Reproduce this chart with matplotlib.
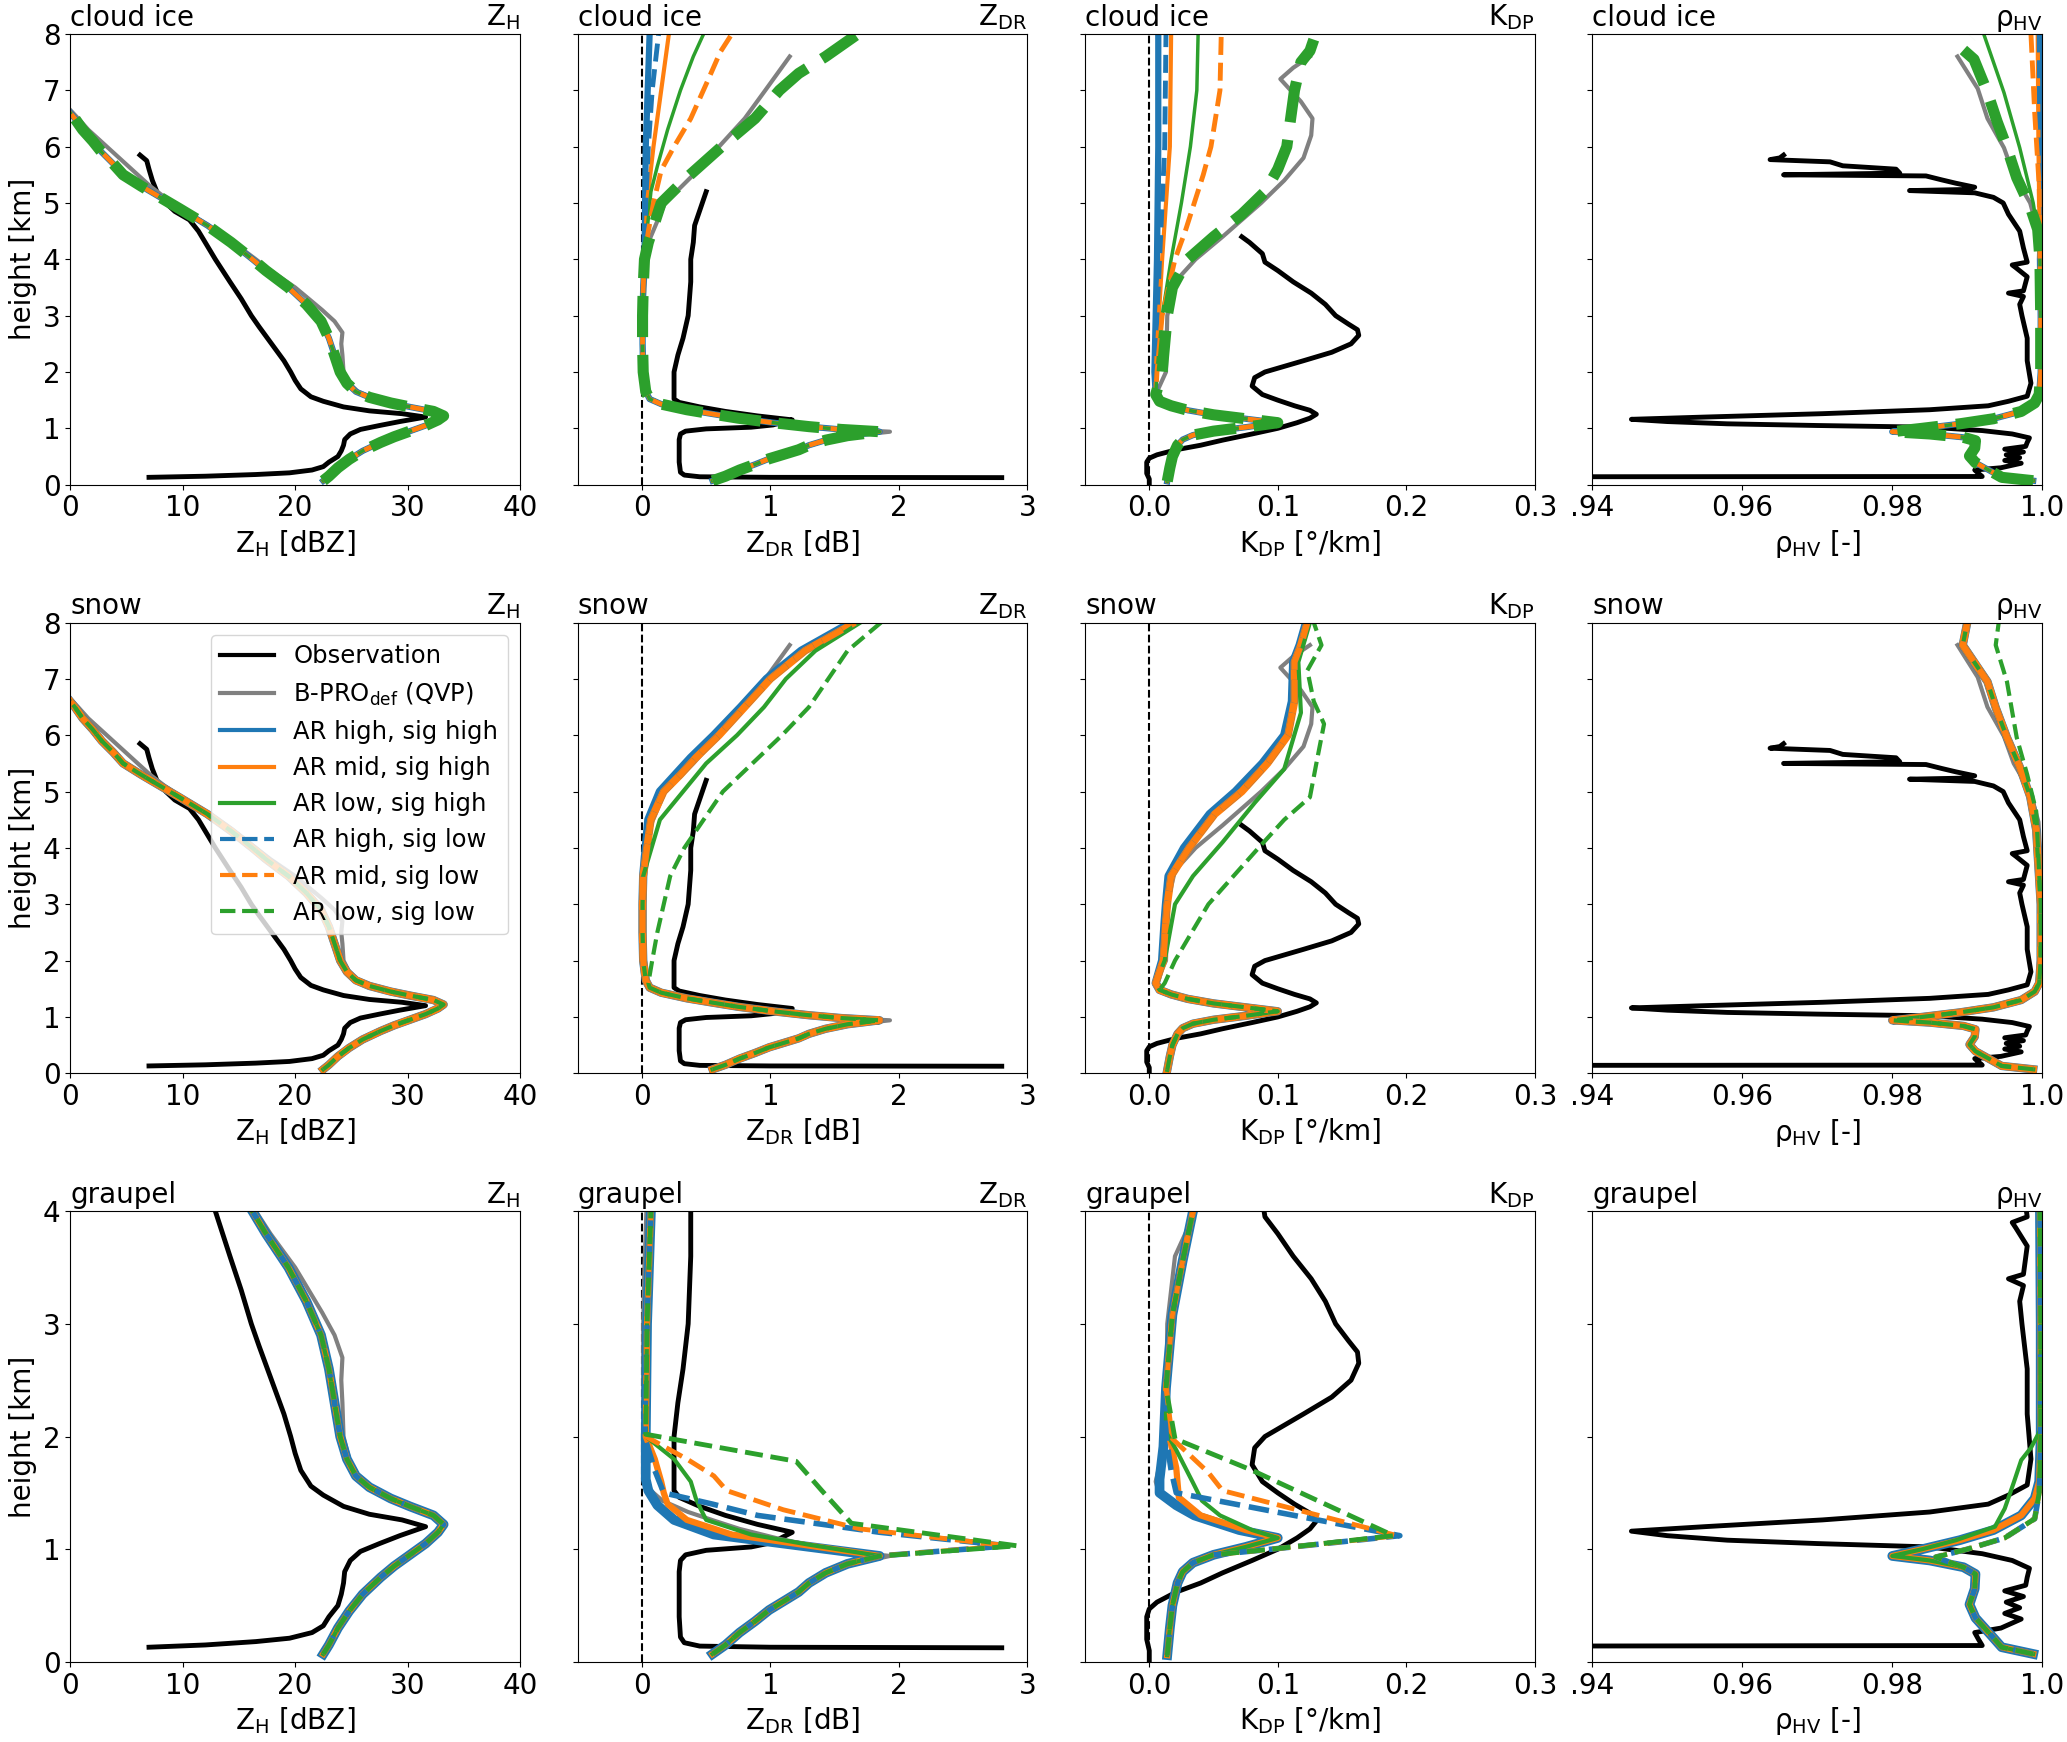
import matplotlib.pyplot as plt
from matplotlib.lines import Line2D

plt.rcParams['font.family'] = 'DejaVu Sans'
plt.rcParams['mathtext.fontset'] = 'dejavusans'

# ---------------- observation (same profile in every row) ----------------
obs_zh_h = [0.13, 0.15, 0.18, 0.21, 0.26, 0.32, 0.4, 0.5, 0.6, 0.7, 0.8, 0.9, 0.98, 1.05, 1.12, 1.2, 1.26,
            1.31, 1.38, 1.48, 1.56, 1.7, 1.85, 2.0, 2.2, 2.5, 2.8, 3.0, 3.3, 3.6, 4.0, 4.3, 4.5, 4.7, 4.85,
            5.0, 5.2, 5.4, 5.6, 5.75, 5.85]
obs_zh = [7.0, 12.0, 16.5, 19.5, 21.5, 22.5, 23.0, 23.8, 24.1, 24.3, 24.4, 24.9, 25.8, 27.5, 29.3, 31.6, 29.5,
          26.6, 24.3, 22.5, 21.4, 20.5, 20.0, 19.6, 19.0, 17.9, 16.8, 16.1, 15.2, 14.2, 12.9, 12.0, 11.4, 10.6, 9.3,
          8.5, 7.7, 7.3, 7.0, 6.8, 6.2]

obs_zdr_h = [0.125, 0.13, 0.14, 0.17, 0.22, 0.4, 0.6, 0.8, 0.9, 0.95, 0.99, 1.02, 1.06, 1.11, 1.15, 1.22, 1.3,
             1.38, 1.46, 1.52, 1.7, 2.0, 2.3, 2.6, 3.0, 3.3, 3.6, 4.0, 4.3, 4.6, 4.8, 5.0, 5.2]
obs_zdr = [2.8, 1.0, 0.45, 0.33, 0.3, 0.29, 0.29, 0.29, 0.3, 0.34, 0.5, 0.85, 1.02, 1.1, 1.17, 0.9, 0.65,
           0.45, 0.29, 0.25, 0.25, 0.25, 0.28, 0.32, 0.36, 0.37, 0.38, 0.38, 0.4, 0.41, 0.44, 0.47, 0.5]

obs_kdp_h = [0.0, 0.1, 0.2, 0.3, 0.4, 0.47, 0.53, 0.62, 0.7, 0.79, 0.9, 1.0, 1.1, 1.18, 1.25, 1.32, 1.4, 1.5,
             1.6, 1.75, 1.9, 2.0, 2.1, 2.2, 2.35, 2.5, 2.65, 2.75, 2.85, 3.0, 3.2, 3.4, 3.6, 3.8, 3.95, 4.1,
             4.2, 4.3, 4.4]
obs_kdp = [0.0, 0.0, -0.002, -0.002, -0.002, 0.0, 0.006, 0.021, 0.04, 0.057, 0.08, 0.1, 0.115, 0.125, 0.13,
           0.125, 0.113, 0.1, 0.088, 0.08, 0.082, 0.09, 0.105, 0.12, 0.142, 0.157, 0.163, 0.162, 0.155, 0.145,
           0.137, 0.126, 0.112, 0.1, 0.09, 0.088, 0.083, 0.078, 0.072]

obs_rho_h = [0.14, 0.145, 0.2, 0.26, 0.3, 0.38, 0.43, 0.48, 0.53, 0.58, 0.63, 0.68, 0.75, 0.83, 0.9, 0.96,
             1.02, 1.05, 1.08, 1.12, 1.16, 1.2, 1.26, 1.33, 1.4, 1.48, 1.57, 1.8, 2.2, 2.6, 3.0, 3.2, 3.34,
             3.4, 3.44, 3.69, 3.85, 3.9, 3.95, 4.2, 4.5, 4.8, 5.0, 5.1, 5.18, 5.22, 5.24, 5.28, 5.35, 5.41,
             5.48, 5.5, 5.53, 5.6, 5.66, 5.73, 5.77, 5.8, 5.85]
obs_rho = [0.93, 0.992, 0.9915, 0.991, 0.9945, 0.9972, 0.995, 0.997, 0.9952, 0.9975, 0.995, 0.9978, 0.998,
           0.9983, 0.996, 0.992, 0.985, 0.97, 0.958, 0.95, 0.9452, 0.955, 0.9707, 0.985, 0.9928, 0.9955, 0.998,
           0.9985, 0.998, 0.998, 0.9973, 0.997, 0.9975, 0.9955, 0.9975, 0.998, 0.9965, 0.996, 0.998, 0.9975,
           0.997, 0.9955, 0.9948, 0.9935, 0.991, 0.9823, 0.99, 0.991, 0.9885, 0.9866, 0.9845, 0.9655, 0.981,
           0.9805, 0.9734, 0.9717, 0.9637, 0.965, 0.9655]

# ---------------- B-PRO_def (QVP) ----------------
qvp_zh_h = [0.07, 0.15, 0.3, 0.45, 0.6, 0.75, 0.85, 0.95, 1.05, 1.15, 1.22, 1.3, 1.38, 1.45, 1.55, 1.65, 1.8,
            2.0, 2.3, 2.5, 2.7, 2.9, 3.1, 3.3, 3.5, 3.8, 4.0, 4.3, 4.6, 4.9, 5.1, 5.3, 5.5, 5.7, 5.9, 6.1,
            6.3, 6.5, 6.65]
qvp_zh = [22.6, 23.1, 23.9, 24.9, 26.1, 27.7, 28.9, 30.3, 31.7, 32.8, 33.3, 32.4, 30.3, 28.6, 26.8, 25.6, 24.8,
          24.3, 24.2, 24.1, 24.2, 23.5, 22.4, 21.2, 20.0, 17.8, 16.5, 14.5, 12.3, 9.9, 8.4, 7.1, 6.0, 4.9, 3.8,
          2.7, 1.6, 0.7, 0.0]

qvp_zdr_h = [0.07, 0.15, 0.26, 0.36, 0.46, 0.55, 0.62, 0.7, 0.79, 0.87, 0.94, 0.98, 1.03, 1.1, 1.18, 1.25,
             1.33, 1.43, 1.52, 1.65, 2.0, 2.5, 3.0, 3.5, 4.0, 4.3, 5.0, 5.5, 6.0, 6.5, 7.0, 7.6]
qvp_zdr = [0.55, 0.65, 0.76, 0.88, 0.99, 1.12, 1.22, 1.3, 1.45, 1.65, 1.93, 1.6, 1.33, 1.04, 0.76, 0.57, 0.36,
           0.16, 0.07, 0.035, 0.015, 0.01, 0.01, 0.02, 0.035, 0.05, 0.18, 0.4, 0.6, 0.8, 0.96, 1.15]

qvp_kdp_top_h = [2.0, 3.0, 3.6, 4.0, 4.4, 5.0, 5.4, 5.8, 6.2, 6.5, 6.8, 7.0, 7.2, 7.4, 7.6]
qvp_kdp_top = [0.013, 0.014, 0.02, 0.036, 0.057, 0.087, 0.105, 0.12, 0.126, 0.127, 0.118, 0.11, 0.102, 0.112, 0.125]

qvp_rho_top_h = [4.46, 5.0, 5.5, 5.98, 6.5, 7.03, 7.6]
qvp_rho_top = [0.9995, 0.9984, 0.9962, 0.9949, 0.9927, 0.9914, 0.9887]

# ---------------- AR runs: parts shared by most runs ----------------
zh_h = [0.07, 0.15, 0.3, 0.45, 0.6, 0.75, 0.85, 0.95, 1.05, 1.15, 1.22, 1.3, 1.38, 1.45, 1.55, 1.65, 1.8, 2.0,
        2.3, 2.6, 2.9, 3.2, 3.5, 3.8, 4.0, 4.3, 4.6, 4.9, 5.1, 5.3, 5.5, 5.7, 5.9, 6.1, 6.3, 6.5, 6.6]
zh = [22.5, 23.0, 23.8, 24.8, 26.0, 27.6, 28.8, 30.2, 31.6, 32.7, 33.2, 32.3, 30.2, 28.5, 26.6, 25.4, 24.6, 24.0,
      23.5, 23.0, 22.3, 21.0, 19.4, 17.4, 16.2, 14.3, 12.2, 9.7, 8.0, 6.3, 4.7, 3.8, 2.8, 2.0, 1.1, 0.4, 0.0]

zdr_low_h = [0.07, 0.15, 0.26, 0.36, 0.46, 0.55, 0.62, 0.7, 0.79, 0.87, 0.94, 0.98, 1.03, 1.1, 1.18, 1.25,
             1.33, 1.43, 1.52, 1.65, 2.0, 2.5, 3.0, 3.5, 4.0]
zdr_low = [0.55, 0.65, 0.76, 0.88, 0.99, 1.12, 1.22, 1.3, 1.43, 1.6, 1.85, 1.55, 1.3, 1.02, 0.75, 0.56, 0.35,
           0.15, 0.06, 0.03, 0.01, 0.005, 0.005, 0.01, 0.02]

kdp_low_h = [0.06, 0.3, 0.5, 0.7, 0.8, 0.88, 0.95, 1.02, 1.1, 1.17, 1.24, 1.32, 1.4, 1.48, 1.6]
kdp_low = [0.014, 0.016, 0.018, 0.022, 0.026, 0.034, 0.05, 0.075, 0.1, 0.075, 0.05, 0.03, 0.017, 0.008, 0.005]

rho_low_h = [0.07, 0.13, 0.25, 0.39, 0.51, 0.65, 0.78, 0.84, 0.9, 0.94, 1.0, 1.08, 1.17, 1.3, 1.45, 1.6,
             2.0, 3.0, 4.0]
rho_low = [0.9988, 0.9946, 0.993, 0.9911, 0.9903, 0.991, 0.9911, 0.9895, 0.985, 0.98, 0.984, 0.989, 0.9935,
           0.9972, 0.999, 0.9996, 0.9998, 0.9998, 0.9997]

# ---- cloud ice: upper parts ----
ci_zdr_b_h, ci_zdr_b = [5.0, 6.0, 7.0, 8.0], [0.025, 0.03, 0.045, 0.06]
ci_zdr_o_h, ci_zdr_o = [5.0, 6.0, 7.0, 8.0], [0.04, 0.09, 0.15, 0.21]
ci_zdr_g_h = [4.5, 5.2, 5.65, 6.3, 7.0, 7.6, 8.0]
ci_zdr_g = [0.04, 0.07, 0.12, 0.2, 0.3, 0.4, 0.48]
ci_zdr_bd_h, ci_zdr_bd = [5.0, 6.0, 7.0, 8.0], [0.03, 0.05, 0.08, 0.13]
ci_zdr_od_h = [4.5, 5.0, 5.58, 6.0, 6.5, 7.16, 7.68, 8.0]
ci_zdr_od = [0.05, 0.09, 0.15, 0.25, 0.38, 0.51, 0.61, 0.7]
ci_zdr_gd_h = [4.3, 5.0, 5.45, 6.0, 6.5, 7.0, 7.3, 7.6, 8.0]
ci_zdr_gd = [0.05, 0.15, 0.35, 0.62, 0.88, 1.07, 1.22, 1.43, 1.68]

ci_kdp_b_h, ci_kdp_b = [2.0, 4.0, 6.0, 8.0], [0.004, 0.006, 0.007, 0.007]
ci_kdp_o_h, ci_kdp_o = [2.0, 4.0, 5.0, 6.0, 8.0], [0.005, 0.01, 0.013, 0.016, 0.017]
ci_kdp_g_h = [2.0, 3.0, 4.0, 5.0, 6.0, 7.0, 8.0]
ci_kdp_g = [0.006, 0.01, 0.017, 0.025, 0.032, 0.037, 0.038]
ci_kdp_bd_h, ci_kdp_bd = [2.0, 4.0, 6.0, 8.0], [0.004, 0.008, 0.012, 0.013]
ci_kdp_od_h = [2.0, 3.0, 4.0, 4.5, 5.0, 5.5, 6.0, 7.0, 8.0]
ci_kdp_od = [0.006, 0.01, 0.02, 0.028, 0.035, 0.042, 0.048, 0.055, 0.056]
ci_kdp_gd_h = [2.0, 3.0, 3.5, 4.0, 4.4, 4.8, 5.2, 5.6, 6.0, 6.5, 7.0, 7.5, 7.7, 7.9]
ci_kdp_gd = [0.01, 0.014, 0.018, 0.03, 0.05, 0.072, 0.09, 0.1, 0.107, 0.11, 0.113, 0.118, 0.125, 0.128]

ci_rho_b_h, ci_rho_b = [5.0, 6.0, 8.0], [0.9999, 0.9999, 0.9999]
ci_rho_o_h, ci_rho_o = [5.0, 6.0, 8.0], [0.9996, 0.9995, 0.9994]
ci_rho_g_h, ci_rho_g = [4.33, 5.0, 5.98, 6.96, 8.0], [0.9996, 0.9988, 0.997, 0.9949, 0.9922]
ci_rho_bd_h, ci_rho_bd = [5.0, 8.0], [0.9997, 0.9996]
ci_rho_od_h, ci_rho_od = [5.3, 6.6, 8.0], [0.9996, 0.999, 0.9985]
ci_rho_gd_h = [4.53, 4.93, 5.45, 5.98, 6.44, 6.96, 7.55, 7.75, 7.95]
ci_rho_gd = [0.9994, 0.9984, 0.9966, 0.9953, 0.994, 0.9927, 0.9909, 0.9892, 0.9905]

# ---- snow: upper parts ----
sn_zdr_b_h = [4.5, 5.0, 5.3, 5.6, 6.0, 6.5, 7.0, 7.5, 8.0]
sn_zdr_b = [0.05, 0.14, 0.26, 0.38, 0.56, 0.77, 0.97, 1.24, 1.63]
sn_zdr_ar_h = [4.5, 5.0, 5.3, 5.6, 6.0, 6.5, 7.0, 7.5, 8.0]
sn_zdr_ar = [0.07, 0.17, 0.3, 0.42, 0.6, 0.8, 1.0, 1.27, 1.66]
sn_zdr_g_h = [4.5, 5.0, 5.5, 6.0, 6.5, 7.0, 7.5, 8.0]
sn_zdr_g = [0.14, 0.32, 0.5, 0.74, 0.95, 1.12, 1.35, 1.7]
sn_zdr_gd_h = [1.6, 2.0, 2.5, 3.0, 3.5, 4.0, 4.5, 5.0, 5.5, 6.0, 6.5, 7.0, 7.5, 8.0]
sn_zdr_gd = [0.05, 0.08, 0.12, 0.17, 0.22, 0.33, 0.48, 0.63, 0.86, 1.09, 1.3, 1.45, 1.6, 1.86]

sn_kdp_b_h = [2.0, 2.7, 3.0, 3.5, 4.0, 4.6, 5.0, 5.5, 6.0, 6.6, 7.3, 7.6, 8.0]
sn_kdp_b = [0.01, 0.012, 0.013, 0.015, 0.027, 0.047, 0.067, 0.088, 0.105, 0.111, 0.112, 0.117, 0.122]
sn_kdp_ar_h = [2.0, 2.7, 3.0, 3.5, 4.0, 4.6, 5.0, 5.5, 6.0, 6.6, 7.3, 7.6, 8.0]
sn_kdp_ar = [0.011, 0.013, 0.014, 0.017, 0.031, 0.051, 0.072, 0.092, 0.108, 0.113, 0.113, 0.118, 0.123]
sn_kdp_g_h = [2.0, 3.0, 3.5, 4.1, 4.8, 5.4, 6.4, 7.3, 8.0]
sn_kdp_g = [0.012, 0.02, 0.034, 0.057, 0.082, 0.105, 0.118, 0.116, 0.125]
sn_kdp_gd_h = [1.6, 2.0, 3.0, 4.0, 4.5, 4.9, 5.5, 6.2, 6.6, 7.15, 7.6, 8.0]
sn_kdp_gd = [0.012, 0.02, 0.046, 0.085, 0.105, 0.125, 0.13, 0.136, 0.128, 0.123, 0.134, 0.128]

sn_rho_ar_h = [4.32, 4.91, 5.44, 5.96, 6.49, 6.95, 7.6, 8.0]
sn_rho_ar = [0.9992, 0.9984, 0.997, 0.9953, 0.9938, 0.9927, 0.9894, 0.99]
sn_rho_gd_h = [4.65, 5.3, 5.96, 6.95, 7.6, 8.0]
sn_rho_gd = [0.9992, 0.998, 0.9966, 0.9953, 0.9938, 0.9942]

# ---- graupel: upper parts ----
gr_zdr_b_h = [1.04, 1.13, 1.26, 1.39, 1.52, 1.62, 2.0, 3.0, 4.0]
gr_zdr_b = [1.17, 0.56, 0.25, 0.12, 0.05, 0.03, 0.03, 0.04, 0.07]
gr_zdr_o_h = [1.04, 1.13, 1.26, 1.4, 1.5, 1.6, 1.8, 2.0, 3.0, 4.0]
gr_zdr_o = [1.25, 0.7, 0.35, 0.2, 0.17, 0.15, 0.1, 0.03, 0.04, 0.07]
gr_zdr_g_h = [1.04, 1.13, 1.26, 1.35, 1.45, 1.6, 1.8, 2.0, 3.0, 4.0]
gr_zdr_g = [1.3, 0.85, 0.5, 0.46, 0.42, 0.38, 0.25, 0.03, 0.04, 0.07]
gr_zdr_bd_h = [1.03, 1.15, 1.3, 1.4, 1.5, 1.7, 2.0, 3.0, 4.0]
gr_zdr_bd = [2.85, 1.85, 0.9, 0.55, 0.17, 0.1, 0.02, 0.04, 0.07]
gr_zdr_od_h = [1.03, 1.18, 1.35, 1.52, 1.65, 1.8, 2.0, 3.0, 4.0]
gr_zdr_od = [2.85, 1.7, 1.1, 0.66, 0.56, 0.35, 0.03, 0.04, 0.07]
gr_zdr_gd_h = [1.03, 1.23, 1.52, 1.78, 2.02, 3.0, 4.0]
gr_zdr_gd = [2.92, 1.63, 1.4, 1.2, 0.03, 0.04, 0.07]

gr_kdp_b_h = [1.17, 1.3, 1.39, 1.5, 1.62, 1.91, 2.43, 3.08, 3.56, 4.0]
gr_kdp_b = [0.07, 0.035, 0.021, 0.008, 0.008, 0.011, 0.013, 0.018, 0.026, 0.034]
gr_kdp_o_h = [1.17, 1.3, 1.46, 1.72, 1.98, 2.43, 3.08, 3.56, 4.0]
gr_kdp_o = [0.075, 0.04, 0.023, 0.021, 0.016, 0.013, 0.018, 0.026, 0.034]
gr_kdp_g_h = [1.17, 1.3, 1.43, 1.59, 1.88, 2.04, 2.43, 3.08, 3.56, 4.0]
gr_kdp_g = [0.08, 0.055, 0.041, 0.034, 0.021, 0.013, 0.013, 0.018, 0.026, 0.034]
gr_kdp_bd_h = [1.0, 1.12, 1.5, 1.7, 2.0, 2.43, 3.08, 3.56, 4.0]
gr_kdp_bd = [0.095, 0.195, 0.021, 0.017, 0.013, 0.013, 0.018, 0.026, 0.034]
gr_kdp_od_h = [1.0, 1.12, 1.52, 1.68, 1.98, 2.43, 3.08, 3.56, 4.0]
gr_kdp_od = [0.095, 0.193, 0.057, 0.046, 0.018, 0.013, 0.018, 0.026, 0.034]
gr_kdp_gd_h = [1.0, 1.12, 1.7, 1.98, 2.43, 3.08, 3.56, 4.0]
gr_kdp_gd = [0.095, 0.19, 0.08, 0.02, 0.013, 0.018, 0.026, 0.034]

gr_rho_g_h = [1.08, 1.2, 1.36, 1.59, 1.79, 1.9, 2.05, 3.0, 4.0]
gr_rho_g = [0.9885, 0.9937, 0.995, 0.9962, 0.9972, 0.9985, 0.9997, 0.9998, 0.9997]
gr_rho_d_h = [0.93, 1.0, 1.1, 1.27, 1.5, 2.0, 3.0, 4.0]
gr_rho_d = [0.9858, 0.99, 0.995, 0.999, 0.9996, 0.9998, 0.9998, 0.9997]

# order: AR high/mid/low sig high, then AR high/mid/low sig low
labels = ['AR high, sig high', 'AR mid, sig high', 'AR low, sig high',
          'AR high, sig low', 'AR mid, sig low', 'AR low, sig low']
colors = ['tab:blue', 'tab:orange', 'tab:green'] * 2
styles = ['-', '-', '-', '--', '--', '--']
row_lw = {'cloud ice': [4.5, 3, 2.5, 3.5, 3.5, 8],
          'snow': [6, 5.5, 3, 4.5, 4.5, 3],
          'graupel': [7, 4.5, 3, 4, 3.5, 3.5]}

obs = {'zh': (obs_zh_h, obs_zh), 'zdr': (obs_zdr_h, obs_zdr),
       'kdp': (obs_kdp_h, obs_kdp), 'rho': (obs_rho_h, obs_rho)}
qvp = {'zh': (qvp_zh_h, qvp_zh), 'zdr': (qvp_zdr_h, qvp_zdr),
       'kdp': (kdp_low_h + qvp_kdp_top_h, kdp_low + qvp_kdp_top),
       'rho': (rho_low_h + qvp_rho_top_h, rho_low + qvp_rho_top)}

runs = {
    'cloud ice': {
        'zh': [(zh_h, zh)] * 6,
        'zdr': [(zdr_low_h + ci_zdr_b_h, zdr_low + ci_zdr_b),
                (zdr_low_h + ci_zdr_o_h, zdr_low + ci_zdr_o),
                (zdr_low_h + ci_zdr_g_h, zdr_low + ci_zdr_g),
                (zdr_low_h + ci_zdr_bd_h, zdr_low + ci_zdr_bd),
                (zdr_low_h + ci_zdr_od_h, zdr_low + ci_zdr_od),
                (zdr_low_h + ci_zdr_gd_h, zdr_low + ci_zdr_gd)],
        'kdp': [(kdp_low_h + ci_kdp_b_h, kdp_low + ci_kdp_b),
                (kdp_low_h + ci_kdp_o_h, kdp_low + ci_kdp_o),
                (kdp_low_h + ci_kdp_g_h, kdp_low + ci_kdp_g),
                (kdp_low_h + ci_kdp_bd_h, kdp_low + ci_kdp_bd),
                (kdp_low_h + ci_kdp_od_h, kdp_low + ci_kdp_od),
                (kdp_low_h + ci_kdp_gd_h, kdp_low + ci_kdp_gd)],
        'rho': [(rho_low_h + ci_rho_b_h, rho_low + ci_rho_b),
                (rho_low_h + ci_rho_o_h, rho_low + ci_rho_o),
                (rho_low_h + ci_rho_g_h, rho_low + ci_rho_g),
                (rho_low_h + ci_rho_bd_h, rho_low + ci_rho_bd),
                (rho_low_h + ci_rho_od_h, rho_low + ci_rho_od),
                (rho_low_h + ci_rho_gd_h, rho_low + ci_rho_gd)],
    },
    'snow': {
        'zh': [(zh_h, zh)] * 6,
        'zdr': [(zdr_low_h[:-1] + sn_zdr_b_h, zdr_low[:-1] + sn_zdr_b),
                (zdr_low_h[:-1] + sn_zdr_ar_h, zdr_low[:-1] + sn_zdr_ar),
                (zdr_low_h[:-1] + sn_zdr_g_h, zdr_low[:-1] + sn_zdr_g),
                (zdr_low_h[:-1] + sn_zdr_ar_h, zdr_low[:-1] + sn_zdr_ar),
                (zdr_low_h[:-1] + sn_zdr_ar_h, zdr_low[:-1] + sn_zdr_ar),
                (zdr_low_h[:19] + sn_zdr_gd_h, zdr_low[:19] + sn_zdr_gd)],
        'kdp': [(kdp_low_h + sn_kdp_b_h, kdp_low + sn_kdp_b),
                (kdp_low_h + sn_kdp_ar_h, kdp_low + sn_kdp_ar),
                (kdp_low_h + sn_kdp_g_h, kdp_low + sn_kdp_g),
                (kdp_low_h + sn_kdp_ar_h, kdp_low + sn_kdp_ar),
                (kdp_low_h + sn_kdp_ar_h, kdp_low + sn_kdp_ar),
                (kdp_low_h[:14] + sn_kdp_gd_h, kdp_low[:14] + sn_kdp_gd)],
        'rho': [(rho_low_h[:-1] + sn_rho_ar_h, rho_low[:-1] + sn_rho_ar)] * 5
               + [(rho_low_h[:-1] + sn_rho_gd_h, rho_low[:-1] + sn_rho_gd)],
    },
    'graupel': {
        'zh': [(zh_h, zh)] * 6,
        'zdr': [(zdr_low_h[:11] + gr_zdr_b_h, zdr_low[:11] + gr_zdr_b),
                (zdr_low_h[:11] + gr_zdr_o_h, zdr_low[:11] + gr_zdr_o),
                (zdr_low_h[:11] + gr_zdr_g_h, zdr_low[:11] + gr_zdr_g),
                (zdr_low_h[:11] + gr_zdr_bd_h, zdr_low[:11] + gr_zdr_bd),
                (zdr_low_h[:11] + gr_zdr_od_h, zdr_low[:11] + gr_zdr_od),
                (zdr_low_h[:11] + gr_zdr_gd_h, zdr_low[:11] + gr_zdr_gd)],
        'kdp': [(kdp_low_h[:9] + gr_kdp_b_h, kdp_low[:9] + gr_kdp_b),
                (kdp_low_h[:9] + gr_kdp_o_h, kdp_low[:9] + gr_kdp_o),
                (kdp_low_h[:9] + gr_kdp_g_h, kdp_low[:9] + gr_kdp_g),
                (kdp_low_h[:7] + gr_kdp_bd_h, kdp_low[:7] + gr_kdp_bd),
                (kdp_low_h[:7] + gr_kdp_od_h, kdp_low[:7] + gr_kdp_od),
                (kdp_low_h[:7] + gr_kdp_gd_h, kdp_low[:7] + gr_kdp_gd)],
        'rho': [(rho_low_h, rho_low), (rho_low_h, rho_low),
                (rho_low_h[:11] + gr_rho_g_h, rho_low[:11] + gr_rho_g)]
               + [(rho_low_h[:8] + gr_rho_d_h, rho_low[:8] + gr_rho_d)] * 3,
    },
}

variables = ['zh', 'zdr', 'kdp', 'rho']
right_titles = {'zh': r'Z$_{\rm H}$', 'zdr': r'Z$_{\rm DR}$', 'kdp': r'K$_{\rm DP}$', 'rho': r'ρ$_{\rm HV}$'}
xlabels = {'zh': r'Z$_{\rm H}$ [dBZ]', 'zdr': r'Z$_{\rm DR}$ [dB]',
           'kdp': r'K$_{\rm DP}$ [°/km]', 'rho': r'ρ$_{\rm HV}$ [-]'}
xlims = {'zh': (0, 40), 'zdr': (-0.5, 3), 'kdp': (-0.05, 0.3), 'rho': (0.94, 1.0)}
xticks = {'zh': [0, 10, 20, 30, 40], 'zdr': [0, 1, 2, 3], 'kdp': [0.0, 0.1, 0.2, 0.3],
          'rho': [0.94, 0.96, 0.98, 1.0]}
xticklabels = {'zh': ['0', '10', '20', '30', '40'], 'zdr': ['0', '1', '2', '3'],
               'kdp': ['0.0', '0.1', '0.2', '0.3'], 'rho': ['.94', '0.96', '0.98', '1.0']}
row_top = {'cloud ice': 8, 'snow': 8, 'graupel': 4}

fs = 20
fig, axes = plt.subplots(3, 4, figsize=(20.67, 17.42), dpi=100, sharey='row')
fig.subplots_adjust(left=0.034, right=0.988, top=0.9805, bottom=0.046, wspace=0.128, hspace=0.306)

for i, row in enumerate(['cloud ice', 'snow', 'graupel']):
    for j, var in enumerate(variables):
        ax = axes[i, j]
        if var in ('zdr', 'kdp'):
            ax.axvline(0, color='k', ls='--', lw=1.5)
        ax.plot(obs[var][1], obs[var][0], color='k', lw=3.5)
        ax.plot(qvp[var][1], qvp[var][0], color='grey', lw=3)
        for k, (h, x) in enumerate(runs[row][var]):
            ax.plot(x, h, color=colors[k], ls=styles[k], lw=row_lw[row][k])
        ax.set_xlim(*xlims[var])
        ax.set_xticks(xticks[var])
        ax.set_xticklabels(xticklabels[var])
        ax.set_ylim(0, row_top[row])
        ax.set_yticks(range(row_top[row] + 1))
        ax.tick_params(labelsize=fs)
        ax.set_xlabel(xlabels[var], fontsize=fs)
        ax.set_title(row, loc='left', fontsize=fs)
        ax.set_title(right_titles[var], loc='right', fontsize=fs)
        if j == 0:
            ax.set_ylabel('height [km]', fontsize=fs)

handles = [Line2D([], [], color='k', lw=3), Line2D([], [], color='grey', lw=3)]
handles += [Line2D([], [], color=colors[k], ls=styles[k], lw=3) for k in range(6)]
axes[1, 0].legend(handles, ['Observation', r'B-PRO$_{\rm def}$ (QVP)'] + labels,
                  loc='upper right', fontsize=17.5, handlelength=2.2)

fig.savefig('out.png', dpi=100)
